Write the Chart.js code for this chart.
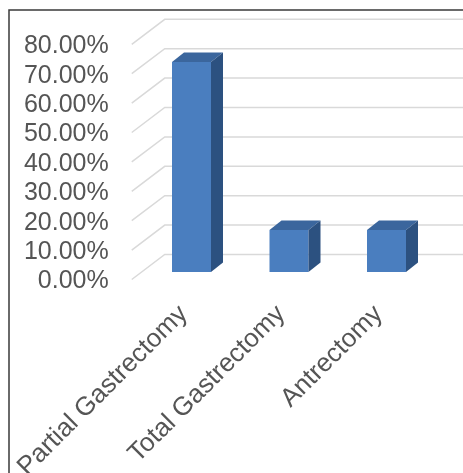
<!DOCTYPE html>
<html>
<head>
<meta charset="utf-8">
<script src="https://cdn.jsdelivr.net/npm/chart.js@4"></script>
<style>
html,body{margin:0;padding:0;background:#fff;}
#wrap{width:463px;height:473px;position:relative;}
</style>
</head>
<body>
<div id="wrap"><canvas id="c" width="463" height="473"></canvas></div>
<script>
const categories = ["Partial Gastrectomy", "Total Gastrectomy", "Antrectomy"];
const percentages = [71.43, 14.29, 14.29];
const yMin = 0, yMax = 80, yStep = 10;

const W = 463, H = 473;
const AREA = {left: 142.75, right: 435.25, top: 36.8, bottom: 272};
const DEPTH = {dx: 12, dy: 9.5};
const COLORS = {front: '#4a7ebf', top: '#3b669d', side: '#2c5180', grid: '#d9d9d9', text: '#555555', frame: '#3a3a3a'};
const FONT = 'Liberation Sans, Arial, sans-serif';

const framePlugin = {
  id: 'frame',
  afterDraw(chart) {
    const ctx = chart.ctx;
    ctx.save();
    ctx.strokeStyle = COLORS.frame;
    ctx.lineWidth = 1.5;
    ctx.beginPath();
    ctx.moveTo(9, H);
    ctx.lineTo(9, 10);
    ctx.lineTo(W, 10);
    ctx.stroke();
    ctx.restore();
  }
};

const gridPlugin = {
  id: 'grid3d',
  beforeDatasetsDraw(chart) {
    const ctx = chart.ctx, ys = chart.scales.y, ca = chart.chartArea;
    ctx.save();
    ctx.strokeStyle = COLORS.grid;
    ctx.lineWidth = 1.5;
    ys.ticks.forEach(t => {
      const py = ys.getPixelForValue(t.value);
      ctx.beginPath();
      ctx.moveTo(ca.left - 11, py + 7.5);
      ctx.lineTo(ca.left + 22, py - 17.5);
      ctx.lineTo(W, py - 17.5);
      ctx.stroke();
    });
    ctx.restore();
  }
};

const bar3dPlugin = {
  id: 'bar3d',
  afterDatasetsDraw(chart) {
    const ctx = chart.ctx;
    const meta = chart.getDatasetMeta(0);
    ctx.save();
    meta.data.forEach(el => {
      const p = el.getProps(['x', 'y', 'base', 'width'], true);
      const l = p.x - p.width / 2, r = p.x + p.width / 2;
      const {dx, dy} = DEPTH;
      ctx.fillStyle = COLORS.top;
      ctx.beginPath();
      ctx.moveTo(l, p.y);
      ctx.lineTo(l + dx, p.y - dy);
      ctx.lineTo(r + dx, p.y - dy);
      ctx.lineTo(r, p.y);
      ctx.closePath();
      ctx.fill();
      ctx.fillStyle = COLORS.side;
      ctx.beginPath();
      ctx.moveTo(r, p.y);
      ctx.lineTo(r + dx, p.y - dy);
      ctx.lineTo(r + dx, p.base - dy);
      ctx.lineTo(r, p.base);
      ctx.closePath();
      ctx.fill();
    });
    ctx.restore();
  }
};

new Chart(document.getElementById('c'), {
  type: 'bar',
  data: {
    labels: categories,
    datasets: [{
      data: percentages,
      backgroundColor: COLORS.front,
      borderWidth: 0,
      categoryPercentage: 0.8,
      barPercentage: 0.5
    }]
  },
  options: {
    responsive: false,
    animation: false,
    devicePixelRatio: 1,
    layout: {padding: {left: 0, top: AREA.top, right: W - AREA.right, bottom: 0}},
    plugins: {legend: {display: false}, tooltip: {enabled: false}},
    scales: {
      x: {
        grid: {display: false, drawTicks: false},
        border: {display: false},
        ticks: {
          autoSkip: false, minRotation: 45, maxRotation: 45, padding: 27, labelOffset: -8,
          color: COLORS.text, font: {family: FONT, size: 26}
        },
        afterFit(s) { s.height = H - AREA.bottom; s.paddingLeft = 0; s.paddingRight = 0; }
      },
      y: {
        min: yMin, max: yMax,
        grid: {display: false, drawTicks: false},
        border: {display: false},
        ticks: {
          autoSkip: false, stepSize: yStep, padding: 34, labelOffset: 9.5,
          color: COLORS.text, font: {family: FONT, size: 25},
          callback: v => v.toFixed(2) + '%'
        },
        afterFit(s) { s.width = AREA.left; s.paddingTop = 0; s.paddingBottom = 0; }
      }
    }
  },
  plugins: [gridPlugin, bar3dPlugin, framePlugin]
});
</script>
</body>
</html>
